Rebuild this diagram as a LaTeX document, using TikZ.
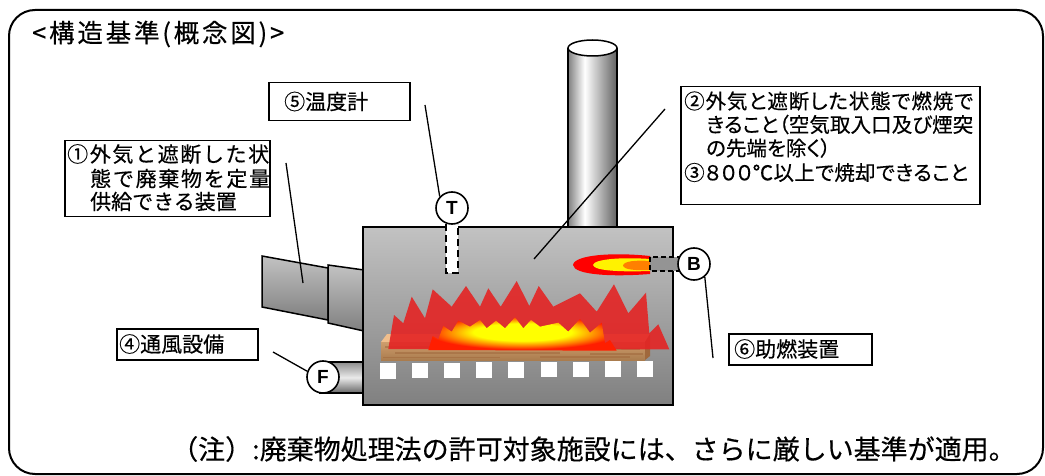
\documentclass[tikz,border=0pt]{standalone}
\usepackage{fontspec}
\setmainfont[FakeBold=0.4]{Noto Sans CJK JP}
\newfontfamily\pfont[RawFeature=+palt, FakeBold=0.4]{Noto Sans CJK JP}
\newfontfamily\lsans{Liberation Sans}

% spread the characters of a line evenly over a given width
\def\spreadchars#1{\ifx#1\relax\else#1\hfill\expandafter\spreadchars\fi}
\newcommand\spreadto[2]{\makebox[#1][s]{\spreadchars#2\relax\unskip}}

\definecolor{furnTop}{RGB}{194,194,194}
\definecolor{furnBot}{RGB}{128,128,128}
\definecolor{flameRed}{RGB}{228,36,36}
\definecolor{woodTop}{RGB}{240,190,140}
\definecolor{woodFront}{RGB}{200,146,92}
\definecolor{woodDark}{RGB}{160,104,60}
\definecolor{fireRed}{RGB}{255,30,0}

\pgfdeclarehorizontalshading{chimneyshade}{100bp}{color(0bp)=(black!50); color(25bp)=(black!50); color(42bp)=(white); color(75bp)=(black!62); color(100bp)=(black!62)}
\pgfdeclareradialshading{fireglow}{\pgfpoint{0bp}{4bp}}{color(0bp)=(yellow); color(13bp)=(yellow); color(20bp)=(orange); color(25bp)=(fireRed); color(50bp)=(fireRed)}

\begin{document}
\begin{tikzpicture}[x=1pt,y=-1pt,
  frame/.style={draw=black, line width=2pt, rounded corners=26pt},
  steel/.style={draw=black, line width=1.5pt},
  boxnode/.style={draw=black, line width=1.5pt, fill=white, inner sep=0pt, anchor=north west},
  boxtext/.style={font=\fontsize{21}{21}\selectfont, inner sep=0pt, anchor=west},
  ptext/.style={font=\pfont\fontsize{20.5}{20.5}\selectfont, inner sep=0pt, anchor=west},
  gauge/.style={circle, draw=black, line width=1.6pt, fill=white, minimum size=32pt, inner sep=0pt, font=\lsans\bfseries\fontsize{19}{19}\selectfont},
  leader/.style={draw=black, line width=1.3pt},
]
\useasboundingbox (0,0) rectangle (1045,476);

% outer frame
\draw[frame] (9,10) rectangle (1043,474);

% title
\node[font=\fontsize{25.5}{25.5}\selectfont, inner sep=0pt, anchor=west] (title) at (32,34)
  {\spreadto{252pt}{<構造基準(概念図)>}};

% chimney
\shade[shading=chimneyshade] (568,48) rectangle (617,229);
\draw[steel] (568,48) -- (568,229) (617,48) -- (617,229);
\draw[steel, fill=white] (592.5,48) ellipse [x radius=24.5pt, y radius=8pt];

% waste feeder (two stepped sections)
\shadedraw[steel, top color=furnTop, bottom color=furnBot]
  (262,256) -- (328,268) -- (328,320) -- (262,307) -- cycle;
\shadedraw[steel, top color=furnTop, bottom color=furnBot]
  (328,265) -- (364,270) -- (364,331) -- (328,323) -- cycle;

% air duct to the fan
\shadedraw[steel, top color=black!45, bottom color=black!60, middle color=black!8]
  (320,362) rectangle (364,393);

% furnace body
\shadedraw[steel, top color=furnTop, bottom color=furnBot] (363,227) rectangle (673,405);

% wood bed
\fill[woodTop] (381,342) -- (387,334) -- (650,334) -- (645,342) -- cycle;
\shade[top color=woodFront!90!white, bottom color=woodFront!85!black] (381,342) rectangle (645,360);
\draw[woodDark, line width=1.4pt, opacity=0.55] (385,347) -- (470,347) (520,349) -- (640,349)
  (395,353) -- (560,353) (590,354) -- (643,354) (383,357.5) -- (500,357.5) (540,357) -- (630,357);
\fill[woodDark] (645,342) -- (650,334) -- (650,356) -- (645,360) -- cycle;

% large red flames
\fill[flameRed, fill opacity=0.9]
  (388.3,349) -- (394,315) -- (403.3,323.3) -- (411.7,296.7) -- (425,318.3) -- (432.7,289.3)
  -- (451.7,306.7) -- (466,286) -- (480,306.7) -- (488.3,288.3) -- (500.7,306.7) -- (516.7,281)
  -- (529.3,306) -- (538.7,286) -- (553.3,306.7) -- (580,293.3) -- (596.7,311.7) -- (614,284.3)
  -- (628.3,313.3) -- (646,292.7) -- (649.3,333.3) -- (658.3,324.3) -- (669.3,349.3) -- cycle;

% inner yellow flame
\shade[shading=fireglow]
  (428.3,350) -- (432.7,336) -- (438.3,339.3) -- (443.3,326) -- (451.7,331.7) -- (458.3,320.7)
  -- (470,326.7) -- (480,320) -- (486.7,328.3) -- (496,320.7) -- (505,328.3) -- (515,317.3)
  -- (523.3,328.3) -- (531,320) -- (540,326.7) -- (558.3,322.7) -- (568.3,331.7) -- (580,319)
  -- (590,332.7) -- (601.7,322.7) -- (605,343.3) -- (610,340) -- (616.7,350.7) -- cycle;

% grate openings
\foreach \i in {0,...,8}
  \fill[white] ({380+32.1*\i},{363-0.25*\i}) rectangle +(16,15.5);

% thermometer well
\fill[white] (446,224) rectangle (458,273);
\draw[black, line width=1.5pt, dash pattern=on 7pt off 4pt] (446,224) -- (446,273) -- (458,273) -- (458,224);

% burner and its flame
\fill[red] (650,256) .. controls (612,252) and (574,255) .. (573,265) .. controls (574,275) and (612,277) .. (650,274) -- cycle;
\fill[yellow] (650,259) .. controls (622,257) and (594,259) .. (593,265) .. controls (594,271) and (622,272) .. (650,271) -- cycle;
\fill[orange] (650,261) .. controls (636,260) and (624,261) .. (623,265.5) .. controls (624,270) and (636,270.5) .. (650,270) -- cycle;
\fill[black!42] (650,257) rectangle (680,271);
\draw[black, line width=1.3pt, dash pattern=on 5pt off 3pt] (650,257) rectangle (680,271);

% instrument circles
\node[gauge] (T) at (452,208) {T};
\node[gauge] (F) at (323,377) {F};
\node[gauge] (B) at (694,264) {B};

% leader lines
\coordinate (c1) at (286,163);
\coordinate (c1e) at (303,283);
\coordinate (c2) at (665,109);
\coordinate (c2e) at (534,259);
\coordinate (c5) at (425,105);
\coordinate (c4) at (273,352);
\coordinate (c6) at (713,358);
\draw[leader] (c1) -- (c1e);
\draw[leader] (c2) -- (c2e);
\draw[leader] (c5) -- (T.137);
\draw[leader] (c4) -- (F.160);
\draw[leader] (c6) -- (B.-50);

% label boxes
\node[boxnode, minimum width=205pt, minimum height=76pt] (b1) at (64,140) {};
\node[boxtext] (b1a) at (67,154) {\spreadto{202pt}{①外気と遮断した状}};
\node[boxtext] (b1b) at (90,178.5) {\spreadto{180pt}{態で廃棄物を定量}};
\node[boxtext] (b1c) at (90,201.5) {供給できる装置};

\node[boxnode, minimum width=299pt, minimum height=118pt] (b2) at (680,86) {};
\node[ptext] (b2a) at (684,101) {\spreadto{289pt}{②外気と遮断した状態で燃焼で}};
\node[ptext] (b2b) at (706,124.5) {\spreadto{267pt}{きること（空気取入口及び煙突}};
\node[ptext] (b2c) at (706,148) {の先端を除く）};
\node[ptext] (b2d) at (684,172.5) {\spreadto{284pt}{③８００℃以上で焼却できること}};

\node[boxnode, minimum width=141pt, minimum height=38pt] (b5) at (268,82) {};
\node[boxtext] (b5t) at (284,101.5) {⑤温度計};

\node[boxnode, minimum width=141pt, minimum height=31pt] (b4) at (116,328) {};
\node[boxtext] (b4t) at (119,344) {④通風設備};

\node[boxnode, minimum width=143pt, minimum height=31pt] (b6) at (728,333) {};
\node[boxtext] (b6t) at (734,349) {⑥助燃装置};

% footnote
\node[font=\fontsize{27}{27}\selectfont, inner sep=0pt, anchor=west] (note) at (171,449)
  {（注）:廃棄物処理法の許可対象施設には、さらに厳しい基準が適用。};

\end{tikzpicture}
\end{document}
